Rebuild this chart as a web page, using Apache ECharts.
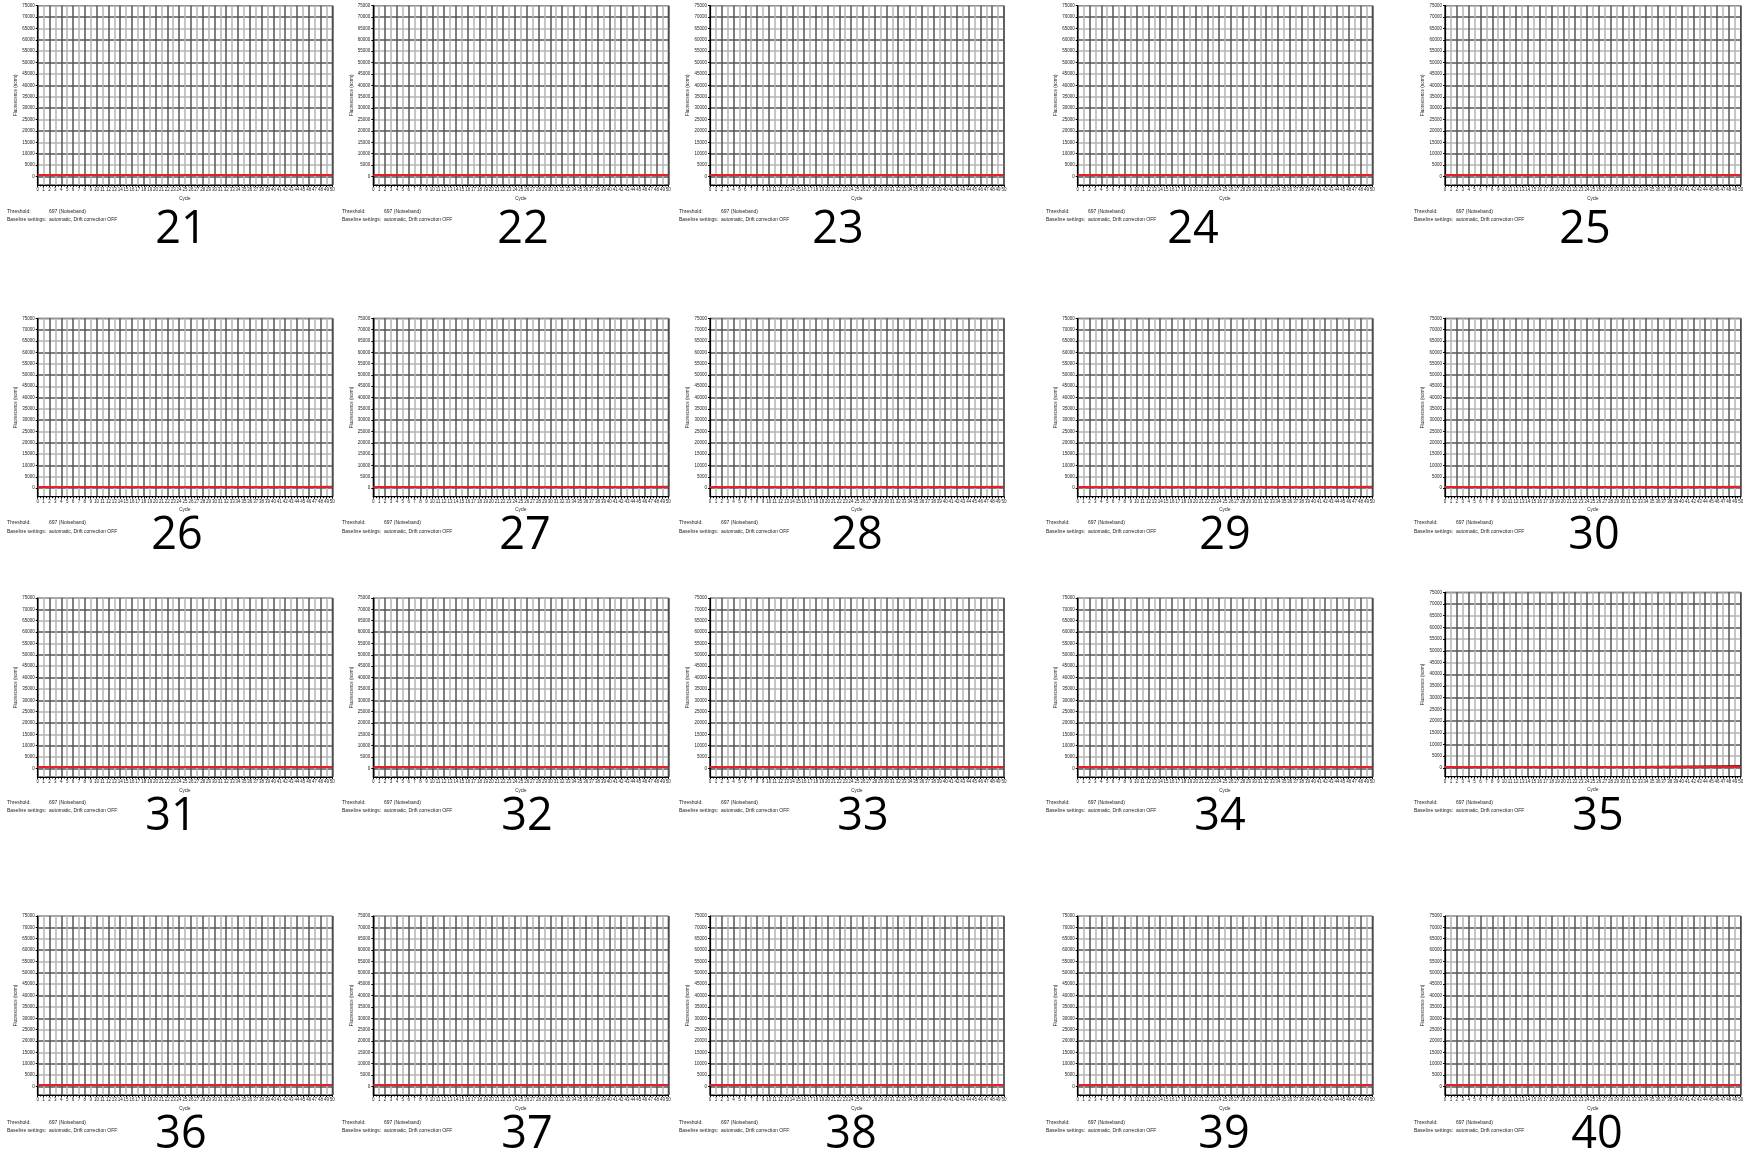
<!DOCTYPE html>
<html>
<head>
<meta charset="utf-8">
<script src="https://cdn.jsdelivr.net/npm/echarts@6/dist/echarts.min.js"></script>
<style>html,body{margin:0;padding:0;background:#fff;}#c{width:1743px;height:1158px;}</style>
</head>
<body>
<div id="c"></div>
<script>
// ---- data ----
const panelIds = ['21','22','23','24','25','26','27','28','29','30','31','32','33','34','35','36','37','38','39','40'];
const cycles = [0,1,2,3,4,5,6,7,8,9,10,11,12,13,14,15,16,17,18,19,20,21,22,23,24,25,26,27,28,29,30,31,32,33,34,35,36,37,38,39,40,41,42,43,44,45,46,47,48,49,50];
const yTicks = [0,5000,10000,15000,20000,25000,30000,35000,40000,45000,50000,55000,60000,65000,70000,75000];
const thresholdValue = 697;
const thresholdText = '697 (Noiseband)';
const baselineText = 'automatic, Drift correction OFF';
// amplification curves (estimated, flat / negative samples)
const curveA = [380,384,390,393,398,404,408,415,419,424,431,436,443,449,455,461,468,473,480,487,493,498,506,512,520,527,535,544,551,560,568,578,586,596,606,617,626,638,649,662,676,689,704,718,733,748,764,779,794,810,826];
const curveB = [40,60,85,100,120,140,160,178,195,210,228,245,262,280,296,312,330,346,362,380,396,412,430,446,462,480,496,512,530,548,566,584,602,620,640,660,680,700,720,742,764,786,808,830,852,874,896,918,940,960,980];
const panelCurve = ['A','A','A','A','A','A','A','A','A','A','A','A','A','A','B','A','A','A','A','A'];

// ---- layout ----
const colLeft = [37.7, 373.3, 710, 1077.7, 1445];
const colRight = [332.3, 668.3, 1004, 1372.3, 1740.7];
const rowTop = [5.7, 318.3, 598, 916];
const rowBottom = [185, 496.7, 777, 1095];
const textColX = [7, 342, 679, 1046, 1414];
const textRowY = [212, 523.5, 803, 1122.7];
const bigX = [[181,523,838,1193,1585],[177,525,857,1225,1594],[171,527,863,1220,1598],[181,527,851,1224,1597]];
const bigTop = [211, 517, 798, 1116];

const SMALL = 'Liberation Sans, Arial, sans-serif';
const grids = [], xAxes = [], yAxes = [], series = [], graphics = [];

panelIds.forEach((id, i) => {
  const r = Math.floor(i / 5), c = i % 5;
  let top = rowTop[r], bottom = rowBottom[r], tY = textRowY[r], bT = bigTop[r];
  if (id === '35') { top = 592.3; bottom = 776.7; }
  grids.push({
    left: colLeft[c], top: top, width: colRight[c] - colLeft[c], height: bottom - top,
    show: true, borderColor: '#000', borderWidth: 1, backgroundColor: 'transparent',
    outerBoundsMode: 'none'
  });
  xAxes.push({
    type: 'value', gridIndex: i, min: 0, max: 50, interval: 1,
    name: 'Cycle', nameLocation: 'middle', nameGap: 11,
    nameTextStyle: { fontSize: 4.5, fontFamily: SMALL, color: '#222' },
    axisLine: { show: true, onZero: false, lineStyle: { color: '#000', width: 1.2 } },
    axisTick: { show: true, length: 2, lineStyle: { color: '#000' } },
    minorTick: { show: true, splitNumber: 2, length: 1.5, lineStyle: { color: '#000' } },
    axisLabel: { fontSize: 4.5, margin: 2.5, color: '#222', fontFamily: SMALL, showMinLabel: true, showMaxLabel: true, hideOverlap: false },
    splitLine: { show: true, lineStyle: { color: ['#555555', '#b4b4b4'], width: 1.5 } }
  });
  yAxes.push({
    type: 'value', gridIndex: i, min: -3750, max: 75000,
    name: 'Fluorescence (norm)', nameLocation: 'middle', nameGap: 15,
    nameTextStyle: { fontSize: 4.5, fontFamily: SMALL, color: '#222' },
    axisLine: { show: true, onZero: false, lineStyle: { color: '#000', width: 1.2 } },
    axisTick: { show: true, length: 2, customValues: yTicks, lineStyle: { color: '#000' } },
    axisLabel: { fontSize: 4.5, margin: 3, color: '#222', fontFamily: SMALL, customValues: yTicks, formatter: v => String(v) },
    splitLine: { show: true, lineStyle: { color: ['#555555', '#b4b4b4'], width: 1.5 } }
  });
  const curve = panelCurve[i] === 'B' ? curveB : curveA;
  series.push({
    type: 'line', xAxisIndex: i, yAxisIndex: i, showSymbol: false, silent: true,
    data: cycles.map((x, k) => [x, curve[k]]),
    lineStyle: { color: '#4a0c0c', width: 1 },
    markLine: {
      silent: true, symbol: 'none', label: { show: false },
      lineStyle: { color: '#e5202a', width: 2, type: 'solid' },
      data: [{ yAxis: thresholdValue }]
    },
    z: 3
  });
  const tx = textColX[c];
  graphics.push(
    { type: 'text', left: tx, top: tY - 3, style: { text: 'Threshold:', fontSize: 5, fontFamily: SMALL, fill: '#222' } },
    { type: 'text', left: tx + 42, top: tY - 3, style: { text: thresholdText, fontSize: 5, fontFamily: SMALL, fill: '#222' } },
    { type: 'text', left: tx, top: tY + 5.5, style: { text: 'Baseline settings:', fontSize: 5, fontFamily: SMALL, fill: '#222' } },
    { type: 'text', left: tx + 42, top: tY + 5.5, style: { text: baselineText, fontSize: 5, fontFamily: SMALL, fill: '#222' } },
    { type: 'text', x: bigX[r][c], y: bT - 3, style: { text: id, fontSize: 45, fontFamily: 'Open Sans, Noto Sans, sans-serif', fill: '#000', align: 'center', verticalAlign: 'top' } }
  );
});

const chart = echarts.init(document.getElementById('c'), null, { renderer: 'canvas' });
chart.setOption({
  animation: false,
  backgroundColor: '#fff',
  grid: grids, xAxis: xAxes, yAxis: yAxes, series: series,
  graphic: graphics
});
</script>
</body>
</html>
